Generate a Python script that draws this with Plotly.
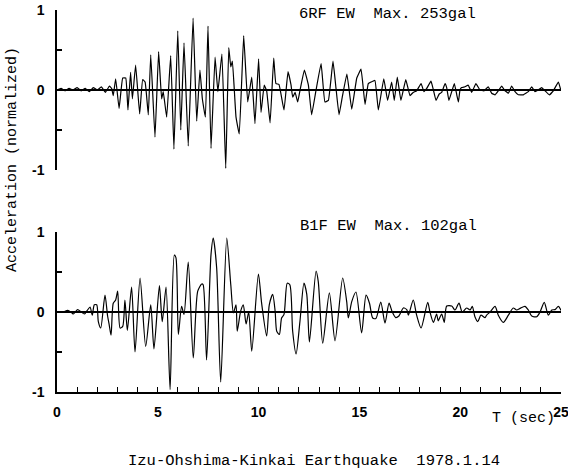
import plotly.graph_objects as go

# ---- data (time in s, normalized acceleration) ----
rf_t = [0.00, 0.20, 0.40, 0.60, 0.80, 1.00, 1.20, 1.40, 1.60, 1.80,
        2.00, 2.20, 2.40, 2.60, 2.71, 2.79, 2.91, 3.08, 3.26, 3.41,
        3.52, 3.65, 3.74, 3.90, 4.10, 4.25, 4.37, 4.53, 4.65, 4.86,
        5.04, 5.19, 5.27, 5.44, 5.64, 5.80, 5.99, 6.14, 6.30, 6.51,
        6.75, 6.93, 7.09, 7.21, 7.36, 7.49, 7.64, 7.84, 7.98, 8.18,
        8.37, 8.52, 8.62, 8.70, 8.88, 9.04, 9.26, 9.46, 9.66, 9.82,
        10.00, 10.12, 10.28, 10.40, 10.57, 10.75, 10.86, 11.01, 11.26, 11.46,
        11.61, 11.69, 11.81, 11.94, 12.05, 12.27, 12.47, 12.63, 12.83, 13.10,
        13.29, 13.46, 13.69, 13.84, 13.99, 14.15, 14.38, 14.62, 14.87, 15.08,
        15.28, 15.44, 15.58, 15.77, 15.94, 16.21, 16.40, 16.60, 16.73, 16.88,
        17.06, 17.30, 17.51, 17.67, 17.84, 18.06, 18.20, 18.34, 18.55, 18.67,
        18.80, 18.96, 19.08, 19.25, 19.33, 19.44, 19.58, 19.71, 19.83, 19.91,
        19.99, 20.07, 20.24, 20.40, 20.57, 20.78, 20.98, 21.18, 21.39, 21.56,
        21.73, 21.89, 22.06, 22.19, 22.39, 22.55, 22.72, 22.88, 23.13, 23.38,
        23.55, 23.71, 23.87, 24.04, 24.21, 24.42, 24.62, 24.87, 25.00]
rf_acc = [0.00, 0.02, -0.01, 0.02, 0.00, 0.03, -0.01, 0.02, -0.02, 0.03,
          0.00, 0.04, -0.03, 0.05, 0.02, -0.07, 0.14, -0.23, 0.15, 0.15,
          -0.25, 0.22, -0.11, 0.31, -0.30, 0.13, 0.10, -0.31, 0.44, -0.59,
          0.48, -0.11, -0.02, -0.34, 0.43, -0.74, 0.74, -0.50, 0.59, -0.70,
          0.90, -0.39, 0.25, -0.11, -0.34, 0.80, -0.73, 0.41, -0.02, 0.45,
          -0.98, 0.53, 0.29, 0.36, -0.34, -0.55, 0.68, -0.15, 0.16, -0.42,
          0.39, -0.28, 0.06, -0.01, -0.41, 0.40, 0.08, 0.07, -0.25, 0.23,
          0.06, -0.09, -0.03, -0.15, -0.01, 0.25, 0.06, -0.31, -0.03, 0.33,
          -0.15, -0.13, 0.36, 0.02, -0.31, -0.09, 0.20, -0.24, 0.15, 0.26,
          -0.18, 0.08, 0.10, 0.12, -0.25, 0.14, -0.13, 0.10, -0.13, 0.16,
          -0.13, 0.13, -0.07, -0.03, -0.01, 0.08, -0.02, 0.02, 0.11, 0.00,
          -0.13, -0.05, -0.03, 0.08, 0.03, -0.13, -0.02, 0.08, -0.06, -0.15,
          0.00, 0.03, 0.04, 0.06, -0.03, 0.08, 0.00, -0.01, 0.04, -0.04,
          -0.06, -0.01, 0.05, 0.00, -0.04, 0.05, -0.02, -0.06, -0.06, -0.02,
          0.04, -0.02, 0.00, 0.03, -0.01, -0.06, -0.01, 0.10, -0.01]

b1_t = [0.00, 0.30, 0.53, 0.73, 0.81, 1.02, 1.20, 1.36, 1.50, 1.64,
        1.75, 1.85, 1.97, 2.05, 2.17, 2.38, 2.51, 2.59, 2.68, 2.79,
        2.91, 3.01, 3.13, 3.26, 3.37, 3.49, 3.70, 3.87, 4.12, 4.40,
        4.65, 4.81, 5.08, 5.22, 5.41, 5.61, 5.82, 5.90, 6.02, 6.18,
        6.30, 6.51, 6.76, 6.98, 7.18, 7.25, 7.42, 7.64, 7.75, 7.92,
        8.12, 8.42, 8.62, 8.75, 8.88, 8.94, 9.11, 9.24, 9.38, 9.51,
        9.66, 9.99, 10.15, 10.40, 10.53, 10.70, 10.82, 10.90, 11.03, 11.14,
        11.26, 11.42, 11.55, 11.69, 11.86, 12.05, 12.25, 12.39, 12.52, 12.85,
        12.96, 13.18, 13.51, 13.79, 14.17, 14.37, 14.45, 14.62, 14.83, 15.11,
        15.33, 15.50, 15.66, 15.82, 16.06, 16.27, 16.47, 16.63, 16.80, 16.96,
        17.18, 17.35, 17.43, 17.67, 17.84, 18.06, 18.39, 18.50, 18.67, 18.83,
        18.91, 19.08, 19.21, 19.33, 19.58, 19.74, 19.94, 20.10, 20.32, 20.49,
        20.60, 20.73, 20.87, 21.03, 21.23, 21.31, 21.48, 21.73, 21.89, 22.14,
        22.39, 22.63, 22.80, 22.97, 23.21, 23.38, 23.55, 23.79, 23.96, 24.17,
        24.37, 24.54, 24.70, 24.87, 25.00]
b1_acc = [0.00, 0.00, 0.02, -0.01, -0.025, 0.03, 0.00, -0.025, 0.02, 0.06,
          -0.04, 0.09, 0.09, -0.12, -0.20, 0.21, -0.05, -0.16, -0.29, 0.11,
          0.15, 0.26, -0.20, -0.18, 0.15, -0.23, 0.31, -0.50, 0.425, -0.43,
          0.09, -0.46, 0.33, -0.12, 0.31, -0.97, 0.71, 0.68, -0.28, 0.07,
          -0.03, 0.625, -0.575, 0.26, 0.35, 0.34, -0.60, 0.72, 0.925, 0.55,
          -0.875, 0.925, 0.34, -0.01, 0.09, -0.24, 0.01, 0.09, -0.15, 0.00,
          -0.49, 0.475, 0.11, -0.30, 0.09, 0.22, 0.01, -0.24, -0.28, -0.075,
          -0.03, 0.36, 0.34, -0.24, -0.525, -0.12, 0.36, 0.22, -0.375, 0.51,
          0.38, -0.39, 0.24, -0.36, 0.425, 0.13, -0.075, 0.13, 0.25, -0.26,
          0.21, 0.11, -0.075, -0.08, 0.125, -0.14, 0.11, 0.00, -0.07, -0.05,
          0.05, 0.03, -0.04, 0.15, -0.04, -0.20, 0.12, 0.00, -0.13, -0.025,
          -0.11, -0.025, -0.13, 0.075, 0.075, 0.025, 0.11, 0.00, 0.05, 0.025,
          0.07, -0.06, -0.12, -0.04, -0.07, -0.04, 0.00, 0.07, -0.04, -0.13,
          -0.04, 0.05, 0.025, 0.045, 0.07, 0.025, -0.05, -0.06, 0.00, 0.12,
          -0.04, 0.025, 0.03, 0.07, 0.02]

assert len(rf_t) == len(rf_acc)
assert len(b1_t) == len(b1_acc)

y_tickvals = [-1, -0.5, 0, 0.5, 1]
y_ticktext = ["-1", "", "0", "", "1"]
x_tickvals = list(range(0, 26))
x_ticktext = [str(v) if v % 5 == 0 else "" for v in x_tickvals]

panel_labels = ["6RF EW\u00a0\u00a0Max. 253gal", "B1F EW\u00a0\u00a0Max. 102gal"]
caption = "Izu-Ohshima-Kinkai Earthquake\u00a0\u00a01978.1.14"
ylabel = "Acceleration (normalized)"
xlabel = "T (sec)"

# ---- figure ----
W, H = 568, 471
ML, MR, MT, MB = 57, 7, 10, 79
PW, PH = W - ML - MR, H - MT - MB

def px(x):  # pixel -> paper x
    return (x - ML) / PW

def py(y):  # pixel -> paper y
    return (H - MB - y) / PH

mono = "Liberation Mono, Courier New, monospace"
sans = "Liberation Sans, Arial, sans-serif"

fig = go.Figure()
fig.add_trace(go.Scatter(x=rf_t, y=rf_acc, mode="lines", xaxis="x", yaxis="y",
                         line=dict(color="black", width=1.2, shape="spline", smoothing=0.3),
                         showlegend=False))
fig.add_trace(go.Scatter(x=b1_t, y=b1_acc, mode="lines", xaxis="x2", yaxis="y2",
                         line=dict(color="black", width=1.2, shape="spline", smoothing=0.7),
                         showlegend=False))

yaxis_common = dict(range=[-1, 1], showgrid=False, showline=True, linecolor="black",
                    linewidth=1.5, ticks="inside", ticklen=5, tickwidth=1.5,
                    tickcolor="black", tickvals=y_tickvals, ticktext=y_ticktext,
                    zeroline=True, zerolinecolor="black", zerolinewidth=1.5,
                    tickfont=dict(family=sans, size=14, color="black", weight="bold"),
                    ticklabelstandoff=8, fixedrange=True, automargin=False)

top_dom = [py(170), 1.0]
bot_dom = [0.0, py(232)]

fig.update_layout(
    width=W, height=H,
    margin=dict(l=ML, r=MR, t=MT, b=MB, autoexpand=False),
    paper_bgcolor="white", plot_bgcolor="white",
    xaxis=dict(domain=[0, 1], range=[0, 25], anchor="y", showgrid=False, showline=False,
               zeroline=False, showticklabels=False, ticks="", automargin=False),
    yaxis=dict(domain=top_dom, anchor="x", **yaxis_common),
    xaxis2=dict(domain=[0, 1], range=[0, 25], anchor="y2", showgrid=False, showline=True,
                linecolor="black", linewidth=1.5, zeroline=False, ticks="inside",
                ticklen=5, tickwidth=1.2, tickcolor="black",
                tickvals=x_tickvals, ticktext=x_ticktext,
                tickfont=dict(family=sans, size=14, color="black", weight="bold"),
                ticklabelstandoff=6, ticklabeloverflow="allow", automargin=False),
    yaxis2=dict(domain=bot_dom, anchor="x2", **yaxis_common),
    annotations=[
        dict(text=panel_labels[0], x=px(297), y=py(14), xref="paper", yref="paper",
             xanchor="left", yanchor="middle", showarrow=False,
             font=dict(family=mono, size=15.5, color="black")),
        dict(text=panel_labels[1], x=px(298), y=py(226), xref="paper", yref="paper",
             xanchor="left", yanchor="middle", showarrow=False,
             font=dict(family=mono, size=15.5, color="black")),
        dict(text=ylabel, x=px(12), y=py(160), xref="paper", yref="paper",
             xanchor="center", yanchor="middle", textangle=-90, showarrow=False,
             font=dict(family=mono, size=15, color="black")),
        dict(text=xlabel, x=px(523), y=py(418), xref="paper", yref="paper",
             xanchor="center", yanchor="middle", showarrow=False,
             font=dict(family=mono, size=15, color="black")),
        dict(text=caption, x=px(314), y=py(461), xref="paper", yref="paper",
             xanchor="center", yanchor="middle", showarrow=False,
             font=dict(family=mono, size=15.5, color="black")),
    ],
)

# remove the browser's default 8px page margin so the figure sits at the top-left corner
fig.write_html("out.html", config={"displayModeBar": False},
               post_script="document.body.style.margin='0';document.body.style.overflow='hidden';")
